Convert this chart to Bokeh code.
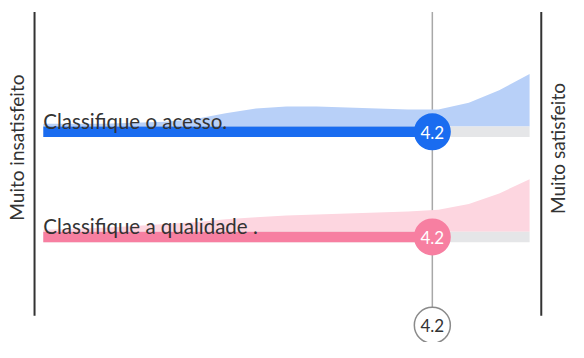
from bokeh.plotting import figure
from bokeh.models import Range1d, ColumnDataSource
from bokeh.core.properties import value
from bokeh.embed import file_html
from bokeh.resources import INLINE
import math

# ---- data ----
questions = ["Classifique o acesso.", "Classifique a qualidade ."]
scores = [4.2, 4.2]
overall = 4.2
scale_min, scale_max = 1, 5
left_label = "Muito insatisfeito"
right_label = "Muito satisfeito"

grid = [1.0, 1.25, 1.5, 1.75, 2.0, 2.25, 2.5, 2.75, 3.0, 3.25, 3.5, 3.75, 4.0, 4.25, 4.5, 4.75, 5.0]
density_acesso = [3, 3, 3, 4, 5, 8, 14, 19, 21, 21, 20, 19, 18, 18, 25, 38, 55]
density_qualidade = [2, 3, 4, 6, 8, 10, 13, 15, 17, 18, 19, 20, 21, 23, 29, 40, 55]
densities = [density_acesso, density_qualidade]

bar_colors = ["#1a6cf0", "#f77fa1"]
area_colors = ["#b8d0f8", "#fdd6e0"]
track_color = "#e5e6e8"
FONT = "Lato"

# ---- layout: design space 584 x 358, scaled into the figure ----
W, H = 584, 358
unit = 125.0                      # design px per rating unit
x_left_design = 44.0              # design px of scale_min
def dx(px):
    return scale_min + (px - x_left_design) / unit

row_y = [137.5, 247.5]
bar_h = 11

p = figure(width=568, height=342, output_backend="svg", toolbar_location=None,
           x_range=Range1d(dx(0), dx(W)), y_range=Range1d(H, 0),
           min_border=0)
p.axis.visible = False
p.grid.visible = False
p.outline_line_color = None
p.background_fill_color = "white"

# frame lines
p.segment(x0=[dx(35), dx(556)], y0=[12, 12], x1=[dx(35), dx(556)], y1=[330, 330],
          line_color="#333333", line_width=2)
# overall line
p.segment(x0=[overall], y0=[12], x1=[overall], y1=[322], line_color="#a8a8a8", line_width=1.5)

for i, q in enumerate(questions):
    yc = row_y[i]
    top = yc - bar_h / 2
    dens = densities[i]
    src = ColumnDataSource(dict(x=grid, y1=[top] * len(grid), y2=[top - d for d in dens]))
    p.varea(x="x", y1="y1", y2="y2", source=src, fill_color=area_colors[i])
    p.hbar(y=[yc], left=[scale_min], right=[scale_max], height=bar_h, fill_color=track_color, line_color=None)
    p.hbar(y=[yc], left=[scale_min], right=[scores[i]], height=bar_h, fill_color=bar_colors[i], line_color=None)
    p.text(x=[scale_min], y=[top - 5.5], text=[q], text_font=value(FONT), text_font_size="20.5px",
           text_color="#333333", text_baseline="alphabetic", text_align="left")
    p.scatter(x=[scores[i]], y=[yc], size=37, fill_color=bar_colors[i], line_color=None)
    p.text(x=[scores[i]], y=[yc + 0.5], text=[f"{scores[i]:.1f}"], text_font=value(FONT), text_font_size="17px",
           text_color="white", text_baseline="middle", text_align="center")

# overall circle
p.scatter(x=[overall], y=[340], size=36, fill_color="white", line_color="#8a8a8a", line_width=1.5)
p.text(x=[overall], y=[340.5], text=[f"{overall:.1f}"], text_font=value(FONT), text_font_size="17px",
       text_color="#333333", text_baseline="middle", text_align="center")

# side labels
p.text(x=[dx(16)], y=[154], text=[left_label], angle=math.pi / 2, text_font=value(FONT),
       text_font_size="19px", text_color="#333333", text_baseline="middle", text_align="center")
p.text(x=[dx(573)], y=[155], text=[right_label], angle=math.pi / 2, text_font=value(FONT),
       text_font_size="19px", text_color="#333333", text_baseline="middle", text_align="center")

open("out.html", "w").write(file_html(p, INLINE))
